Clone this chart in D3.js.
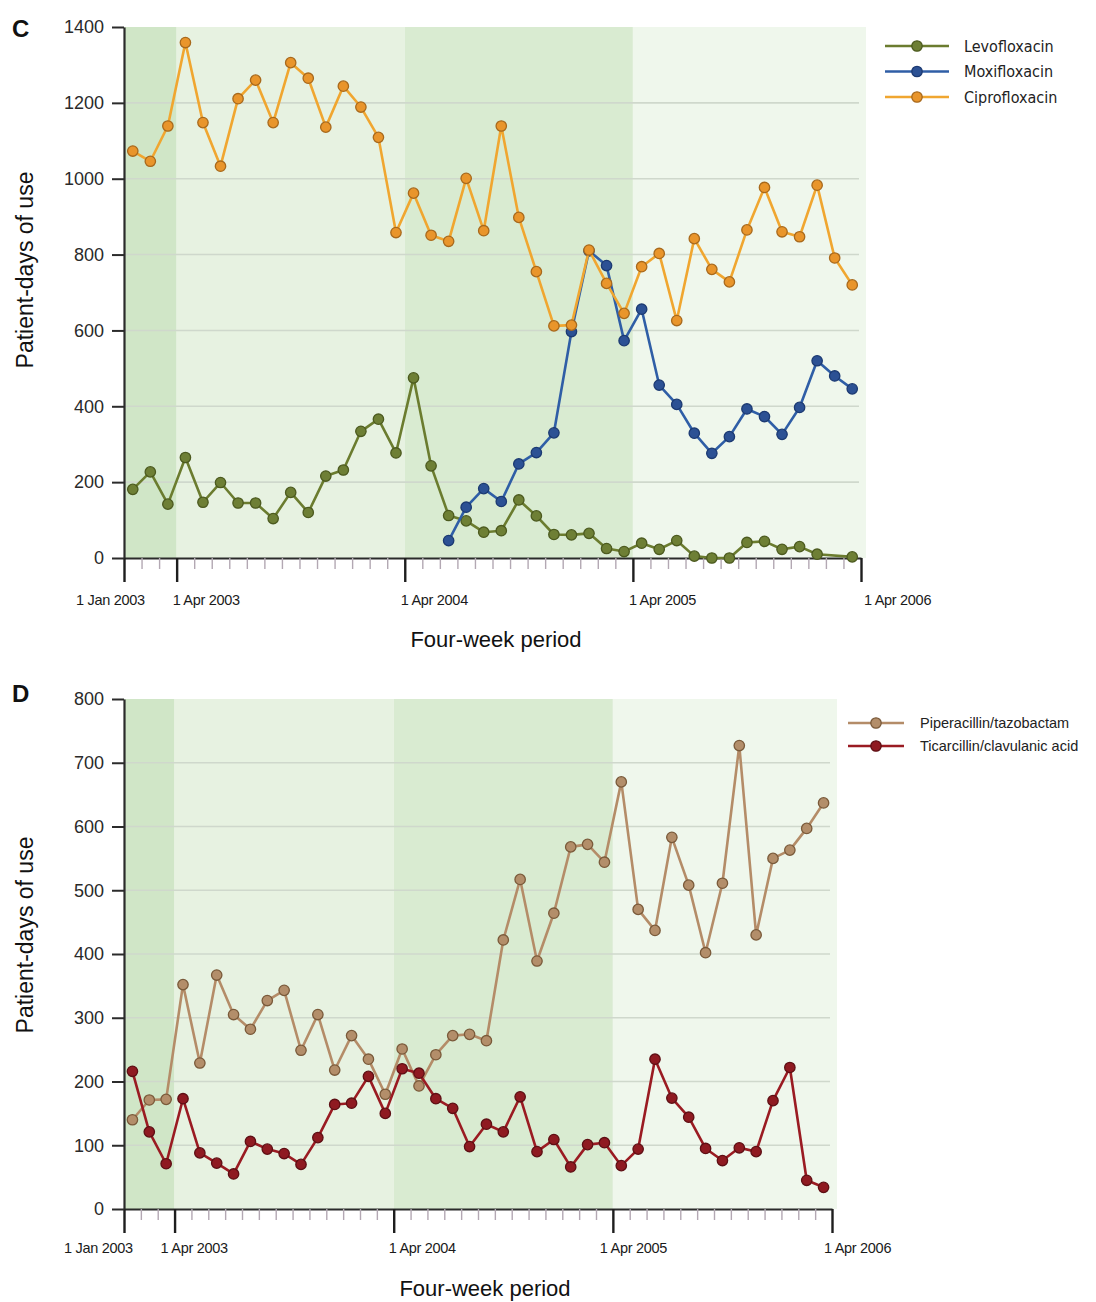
<!DOCTYPE html>
<html><head><meta charset="utf-8">
<script src="https://cdn.jsdelivr.net/npm/d3@7"></script>
<style>
html,body{margin:0;padding:0;background:#fff;}
svg{display:block;}
</style></head>
<body>
<svg id="chart" width="1096" height="1302"></svg>
<script>
// ---------- DATA ----------
const periodCount = 42;                 // four-week periods on the x axis
const xTickPeriods = [0, 3, 16, 29, 42];
const xTickLabels = ["1 Jan 2003", "1 Apr 2003", "1 Apr 2004", "1 Apr 2005", "1 Apr 2006"];

const yTicksC = [0, 200, 400, 600, 800, 1000, 1200, 1400];
const yTicksD = [0, 100, 200, 300, 400, 500, 600, 700, 800];

const seriesNamesC = ["Levofloxacin", "Moxifloxacin", "Ciprofloxacin"];
const levofloxacin = [181,227,142,265,147,199,145,145,104,173,120,216,232,334,366,277,475,243,112,98,68,72,153,111,62,61,65,25,17,39,23,46,5,0,0,41,44,23,30,10,null,3];
const moxifloxacin = [null,null,null,null,null,null,null,null,null,null,null,null,null,null,null,null,null,null,46,134,183,149,248,278,330,597,810,771,573,656,456,405,329,276,320,393,373,326,397,520,480,446];
const ciprofloxacin = [1073,1046,1139,1359,1148,1033,1211,1260,1148,1306,1265,1136,1244,1189,1109,858,962,851,835,1001,863,1139,898,755,612,614,812,724,645,768,803,626,842,761,728,865,977,860,847,983,791,720];

const seriesNamesD = ["Piperacillin/tazobactam", "Ticarcillin/clavulanic acid"];
const piperacillin = [140,171,172,352,229,367,305,282,327,343,249,305,218,272,235,180,251,193,242,272,274,264,422,517,389,464,568,572,544,670,470,437,583,508,402,511,727,430,550,563,597,637];
const ticarcillin = [216,121,71,173,88,72,55,106,94,87,70,112,164,166,208,150,220,213,173,158,98,133,121,176,90,109,66,101,104,68,94,235,174,144,95,76,96,90,170,222,45,34];

const panelLetters = ["C", "D"];
const yTitle = "Patient-days of use";
const xTitle = "Four-week period";

// ---------- DRAWING ----------
const svg = d3.select("#chart");
const FONT = "'Liberation Sans', Arial, Helvetica, sans-serif";
const NARROW = "'Liberation Sans Narrow', 'Arial Narrow', 'DejaVu Sans Condensed', sans-serif";

function drawPanel(cfg) {
  const g = svg.append("g");
  const x = d3.scaleLinear().domain([0, periodCount]).range([cfg.x0, cfg.x1]);
  const y = d3.scaleLinear().domain([0, cfg.yMax]).range([cfg.yBottom, cfg.yTop]);

  // background bands
  const bands = [[0, 3, "#d0e6c7"], [3, 16, "#e7f2e1"], [16, 29, "#d9ebd1"], [29, periodCount, "#eff7ec"]];
  bands.forEach(([a, b, c], i) => {
    g.append("rect")
      .attr("x", x(a)).attr("y", y(cfg.yMax))
      .attr("width", x(b) - x(a) + (i === bands.length - 1 ? 5 : 0))
      .attr("height", y(0) - y(cfg.yMax))
      .attr("fill", c);
  });

  // gridlines
  g.append("g").selectAll("line")
    .data(cfg.yTicks.filter(v => v > 0 && v < cfg.yMax))
    .join("line")
    .attr("x1", x(0)).attr("x2", x(periodCount) - 2)
    .attr("y1", d => y(d)).attr("y2", d => y(d))
    .attr("stroke", "#cfd8cc").attr("stroke-width", 1.6);

  // x axis (ticks at every four-week boundary)
  const xAxis = d3.axisBottom(x)
    .tickValues(d3.range(0, periodCount + 1))
    .tickSizeOuter(0)
    .tickFormat("");
  const gx = g.append("g").attr("transform", `translate(0,${y(0)})`).call(xAxis);
  gx.select(".domain").attr("stroke", "#2b2b2b").attr("stroke-width", 2.2);
  gx.selectAll(".tick line")
    .attr("y2", d => xTickPeriods.includes(d) ? cfg.majorLen : 11)
    .attr("stroke", d => xTickPeriods.includes(d) ? "#1e1e1e" : "#b3a8b3")
    .attr("stroke-width", d => xTickPeriods.includes(d) ? 2.4 : 1.4);

  // x tick labels
  g.append("g").selectAll("text")
    .data(xTickPeriods)
    .join("text")
    .attr("x", (d, i) => x(d) + cfg.labelDx[i])
    .attr("y", y(0) + cfg.labelDy)
    .attr("font-family", FONT).attr("font-size", 14.5)
    .attr("fill", "#1a1a1a")
    .attr("text-anchor", "start")
    .style("letter-spacing", "-0.3px")
    .text((d, i) => xTickLabels[i]);

  // y axis
  const yAxis = d3.axisLeft(y).tickValues(cfg.yTicks).tickFormat(d3.format("d"))
    .tickSize(12).tickSizeOuter(0).tickPadding(8);
  const gy = g.append("g").attr("transform", `translate(${x(0)},0)`).call(yAxis);
  gy.select(".domain").attr("stroke", "#2b2b2b").attr("stroke-width", 2.2);
  gy.selectAll(".tick line").attr("stroke", "#2b2b2b").attr("stroke-width", 2);
  gy.selectAll(".tick text")
    .attr("font-family", FONT).attr("font-size", 18).attr("fill", "#2a2a2a");

  // series
  const line = d3.line().x(d => x(d.i + 0.5)).y(d => y(d.v));
  cfg.series.forEach(s => {
    const pts = s.values.map((v, i) => ({ i, v })).filter(d => d.v != null);
    g.append("path").datum(pts)
      .attr("d", line).attr("fill", "none")
      .attr("stroke", s.line).attr("stroke-width", 2.6)
      .attr("stroke-linejoin", "round");
    g.append("g").selectAll("circle").data(pts).join("circle")
      .attr("cx", d => x(d.i + 0.5)).attr("cy", d => y(d.v))
      .attr("r", 5.2)
      .attr("fill", s.fill).attr("stroke", s.stroke).attr("stroke-width", 1.3);
  });

  // legend
  const lg = g.append("g");
  cfg.series.forEach((s, i) => {
    const ly = cfg.legend.y + i * cfg.legend.dy;
    lg.append("line").attr("x1", cfg.legend.x1).attr("x2", cfg.legend.x2)
      .attr("y1", ly).attr("y2", ly).attr("stroke", s.line).attr("stroke-width", 2.6);
    lg.append("circle").attr("cx", (cfg.legend.x1 + cfg.legend.x2) / 2).attr("cy", ly).attr("r", 5.2)
      .attr("fill", s.fill).attr("stroke", s.stroke).attr("stroke-width", 1.3);
    lg.append("text").attr("x", cfg.legend.tx).attr("y", ly).attr("dy", "0.35em")
      .attr("font-family", cfg.legend.font).attr("font-size", cfg.legend.size)
      .attr("fill", "#222").text(s.name);
  });

  // panel letter
  g.append("text").attr("x", 12).attr("y", cfg.letterY)
    .attr("font-family", FONT).attr("font-weight", "bold").attr("font-size", 24)
    .attr("fill", "#111").text(cfg.letter);

  // axis titles
  g.append("text")
    .attr("transform", `translate(${cfg.yTitleX},${cfg.yTitleY}) rotate(-90)`)
    .attr("text-anchor", "middle").attr("font-family", FONT).attr("font-size", 23)
    .attr("fill", "#111").text(yTitle);
  g.append("text")
    .attr("x", cfg.xTitleX).attr("y", cfg.xTitleY)
    .attr("text-anchor", "middle").attr("font-family", FONT).attr("font-size", 22)
    .attr("fill", "#111").text(xTitle);
}

drawPanel({
  letter: panelLetters[0], letterY: 37,
  x0: 124, x1: 861, yTop: 27, yBottom: 558, yMax: 1400, yTicks: yTicksC,
  majorLen: 24, labelDy: 47, labelDx: [-48, -4, -4, -4, 3],
  yTitleX: 33, yTitleY: 270, xTitleX: 496, xTitleY: 647,
  series: [
    { name: seriesNamesC[0], values: levofloxacin, line: "#6b7c2f", fill: "#6e7f35", stroke: "#4c5a1f" },
    { name: seriesNamesC[1], values: moxifloxacin, line: "#2f5ea6", fill: "#2c5194", stroke: "#1c3a72" },
    { name: seriesNamesC[2], values: ciprofloxacin, line: "#f0a630", fill: "#e9952b", stroke: "#a8691c" }
  ],
  legend: { x1: 885, x2: 949, tx: 964, y: 46, dy: 25.5, font: NARROW, size: 16 }
});

drawPanel({
  letter: panelLetters[1], letterY: 702,
  x0: 124, x1: 832, yTop: 699, yBottom: 1209, yMax: 800, yTicks: yTicksD,
  majorLen: 24, labelDy: 44, labelDx: [-60, -14, -5, -13, -8],
  yTitleX: 33, yTitleY: 935, xTitleX: 485, xTitleY: 1296,
  series: [
    { name: seriesNamesD[0], values: piperacillin, line: "#b48c68", fill: "#b38e6a", stroke: "#7a5a3a" },
    { name: seriesNamesD[1], values: ticarcillin, line: "#9a1b22", fill: "#8f1a21", stroke: "#5e0f14" }
  ],
  legend: { x1: 848, x2: 904, tx: 920, y: 723, dy: 23, font: FONT, size: 14.5 }
});
</script>
</body></html>
